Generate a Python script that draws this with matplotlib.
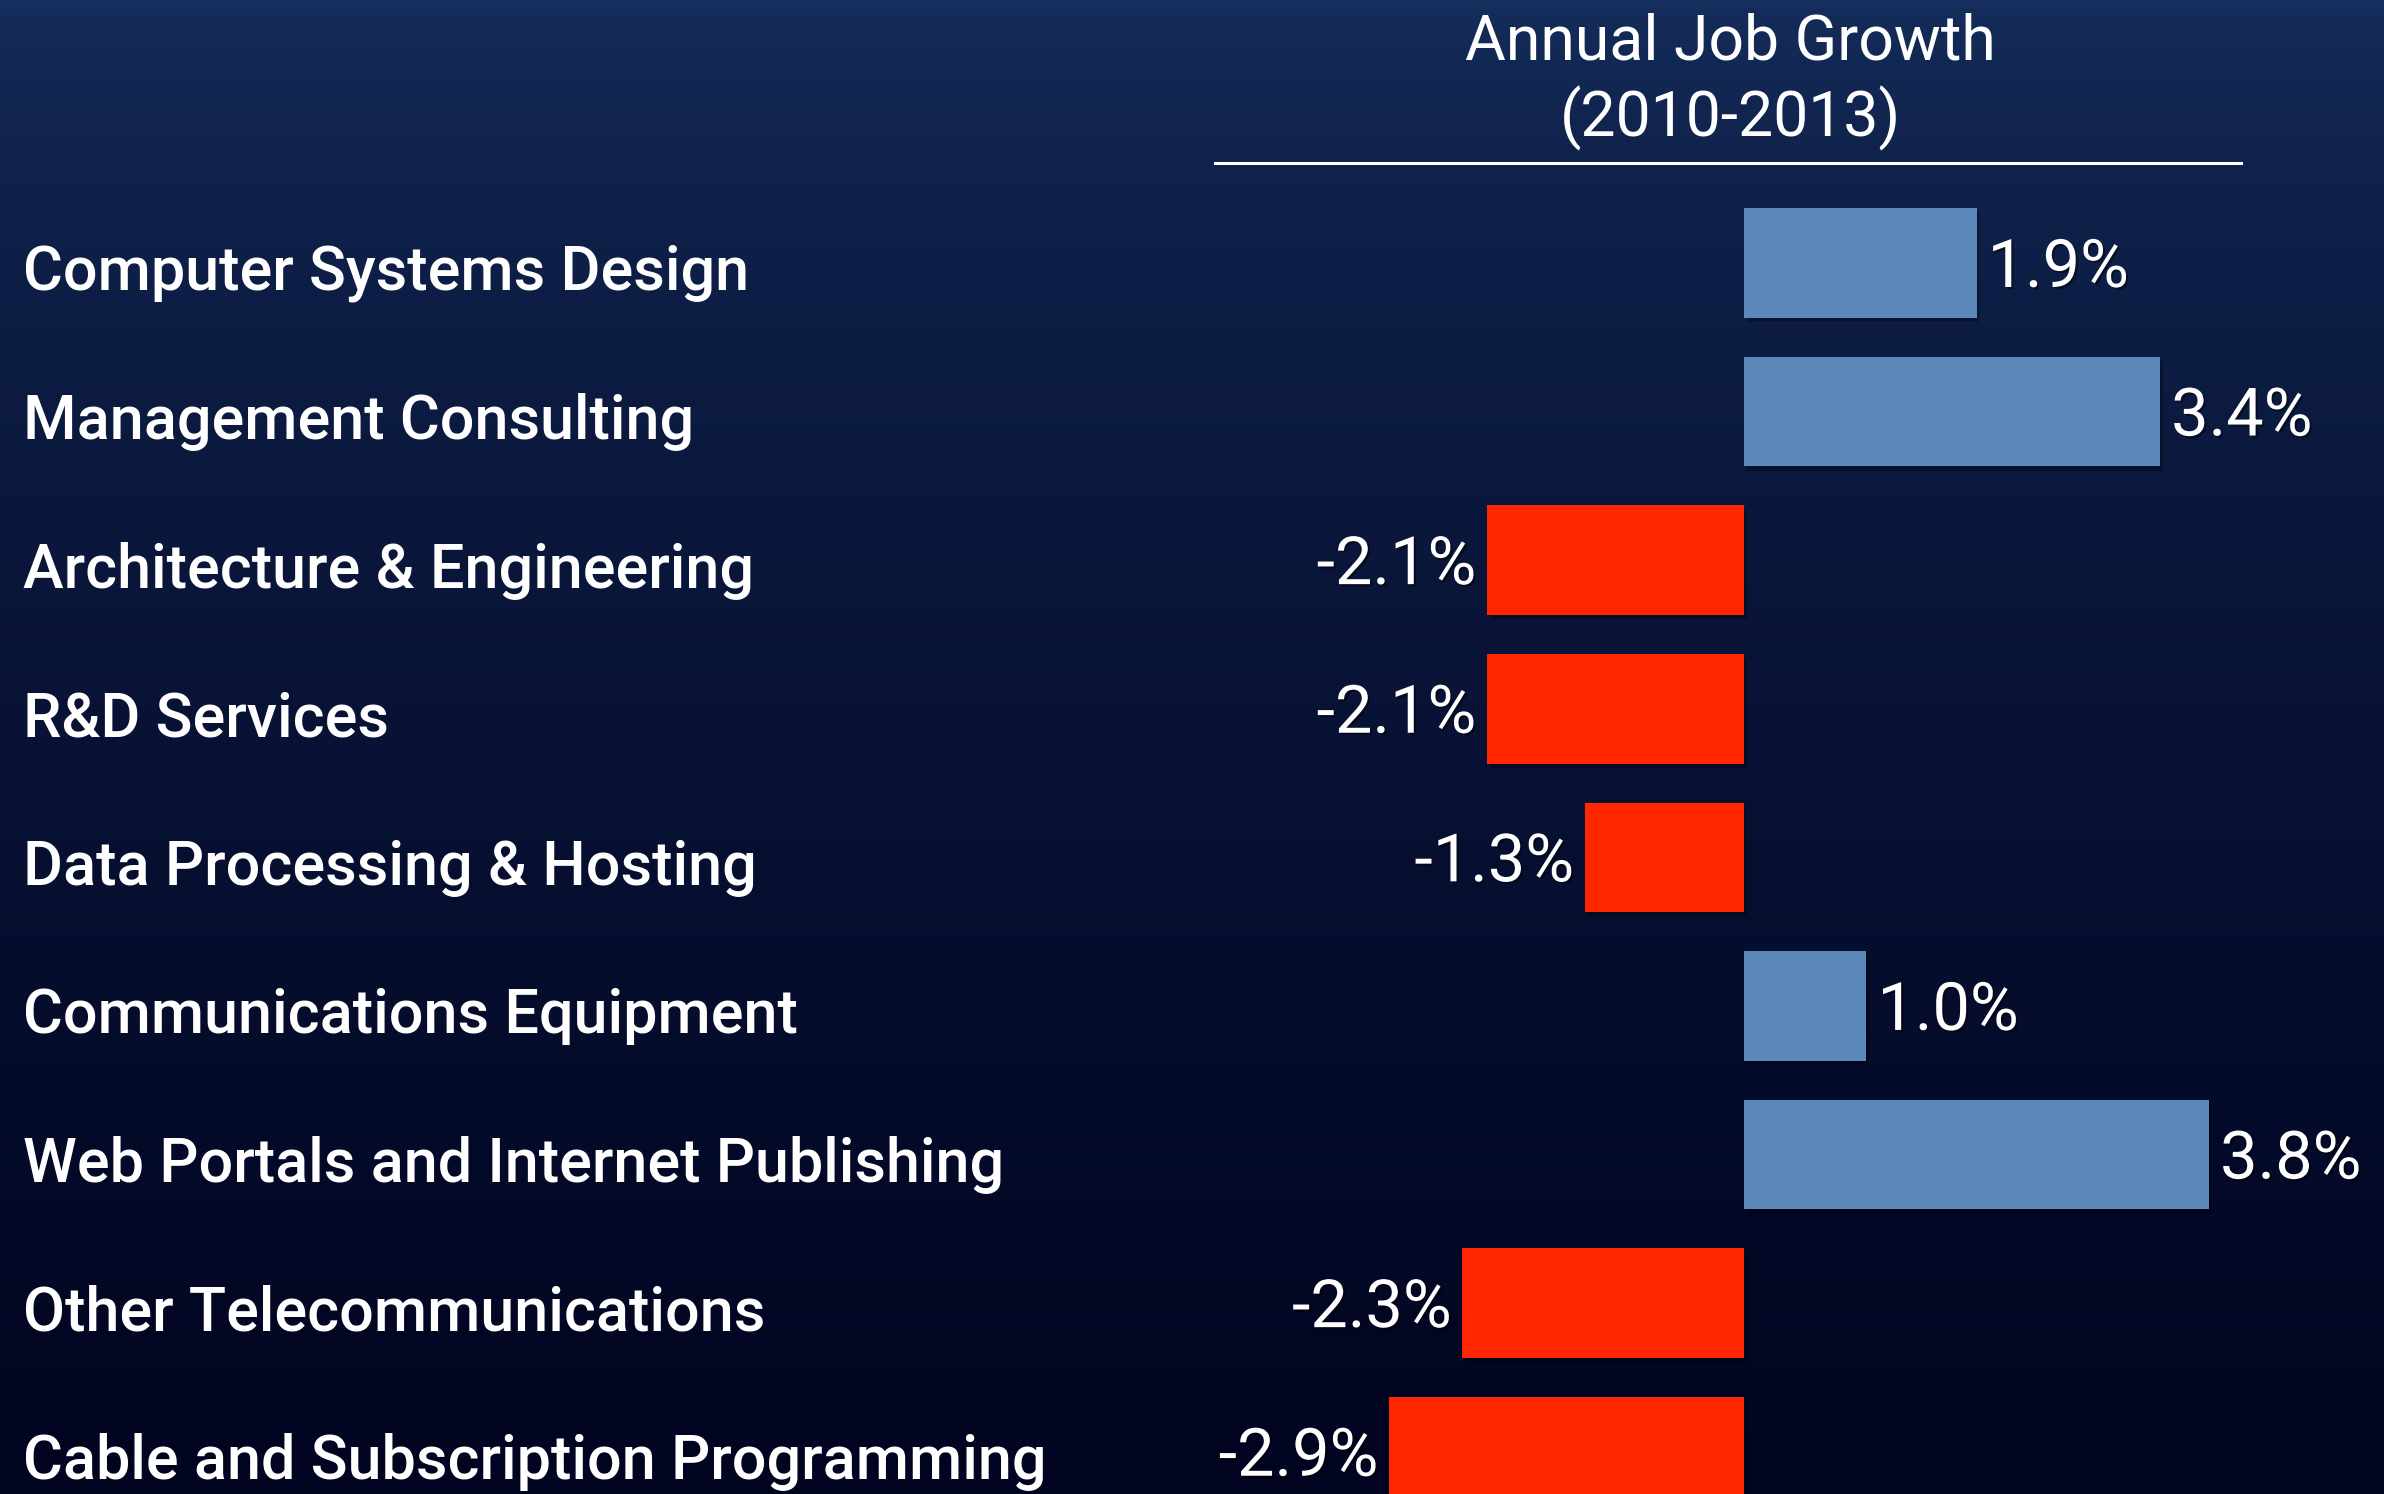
import numpy as np
import matplotlib
matplotlib.use("Agg")
import matplotlib.pyplot as plt
import matplotlib.patheffects as pe
from matplotlib.transforms import blended_transform_factory

categories = ["Computer Systems Design", "Management Consulting", "Architecture & Engineering",
              "R&D Services", "Data Processing & Hosting", "Communications Equipment",
              "Web Portals and Internet Publishing", "Other Telecommunications",
              "Cable and Subscription Programming"]
growth = [1.9, 3.4, -2.1, -2.1, -1.3, 1.0, 3.8, -2.3, -2.9]
value_labels = ["1.9%", "3.4%", "-2.1%", "-2.1%", "-1.3%", "1.0%", "3.8%", "-2.3%", "-2.9%"]
title_lines = ["Annual Job Growth", "(2010-2013)"]

W, H = 2384, 1494
DPI = 100
fig = plt.figure(figsize=(W / DPI, H / DPI), dpi=DPI)

# background gradient
bg = fig.add_axes([0, 0, 1, 1], zorder=0)
bg.axis("off")
yy, xx = np.mgrid[0:1:300j, 0:1:400j]
t = yy ** 0.57
top = np.array([22, 47, 94]) / 255
bot = np.array([1, 4, 32]) / 255
img = top[None, None, :] * (1 - t[..., None]) + bot[None, None, :] * t[..., None]
bg.imshow(np.clip(img, 0, 1), extent=[0, 1, 0, 1], aspect="auto", origin="upper")
bg.set_xlim(0, 1)
bg.set_ylim(0, 1)

ax = fig.add_axes([0, 0, 1, 1], zorder=1)
ax.set_facecolor("none")
ax.axis("off")
px_per_unit = 122.4
zero_px = 1744
ax.set_xlim(-zero_px / px_per_unit, (W - zero_px) / px_per_unit)
pitch = 148.6
first = 263
ax.set_ylim((H - first) / pitch, -first / pitch)

y = np.arange(len(categories))
colors = ["#5b89b9" if v >= 0 else "#ff2600" for v in growth]
bars = ax.barh(y, growth, height=0.737, color=colors, edgecolor="none", zorder=3)
for b in bars:
    b.set_path_effects([pe.SimplePatchShadow(offset=(2, -3), shadow_rgbFace="black", alpha=0.3), pe.Normal()])

label_font = dict(family=["Roboto", "DejaVu Sans"], fontweight="medium", fontsize=44, color="white")
value_font = dict(family=["Roboto", "DejaVu Sans"], fontweight="normal", fontsize=48, color="white")
text_shadow = [pe.SimplePatchShadow(offset=(1.5, -1.5), shadow_rgbFace="black", alpha=0.45), pe.Normal()]

trans = blended_transform_factory(fig.transFigure, ax.transData)
for i, (cat, v, lab) in enumerate(zip(categories, growth, value_labels)):
    ax.text(23 / W, i + 0.07, cat, transform=trans, ha="left", va="center", **label_font)
    off = 0.09
    if v >= 0:
        t_ = ax.text(v + off, i + 0.04, lab, ha="left", va="center", **value_font)
    else:
        t_ = ax.text(v - off, i + 0.04, lab, ha="right", va="center", **value_font)
    t_.set_path_effects(text_shadow)

# title and rule
title_font = dict(family=["Roboto", "DejaVu Sans"], fontweight="normal", fontsize=45, color="white")
fig.text(1730 / W, 1 - 42 / H, title_lines[0], ha="center", va="center", **title_font)
fig.text(1730 / W, 1 - 118 / H, title_lines[1], ha="center", va="center", **title_font)
fig.add_artist(plt.Line2D([1215 / W, 2241 / W], [1 - 163 / H, 1 - 163 / H],
                          transform=fig.transFigure, color="white", lw=2.2))

fig.savefig("out.png", dpi=DPI)
